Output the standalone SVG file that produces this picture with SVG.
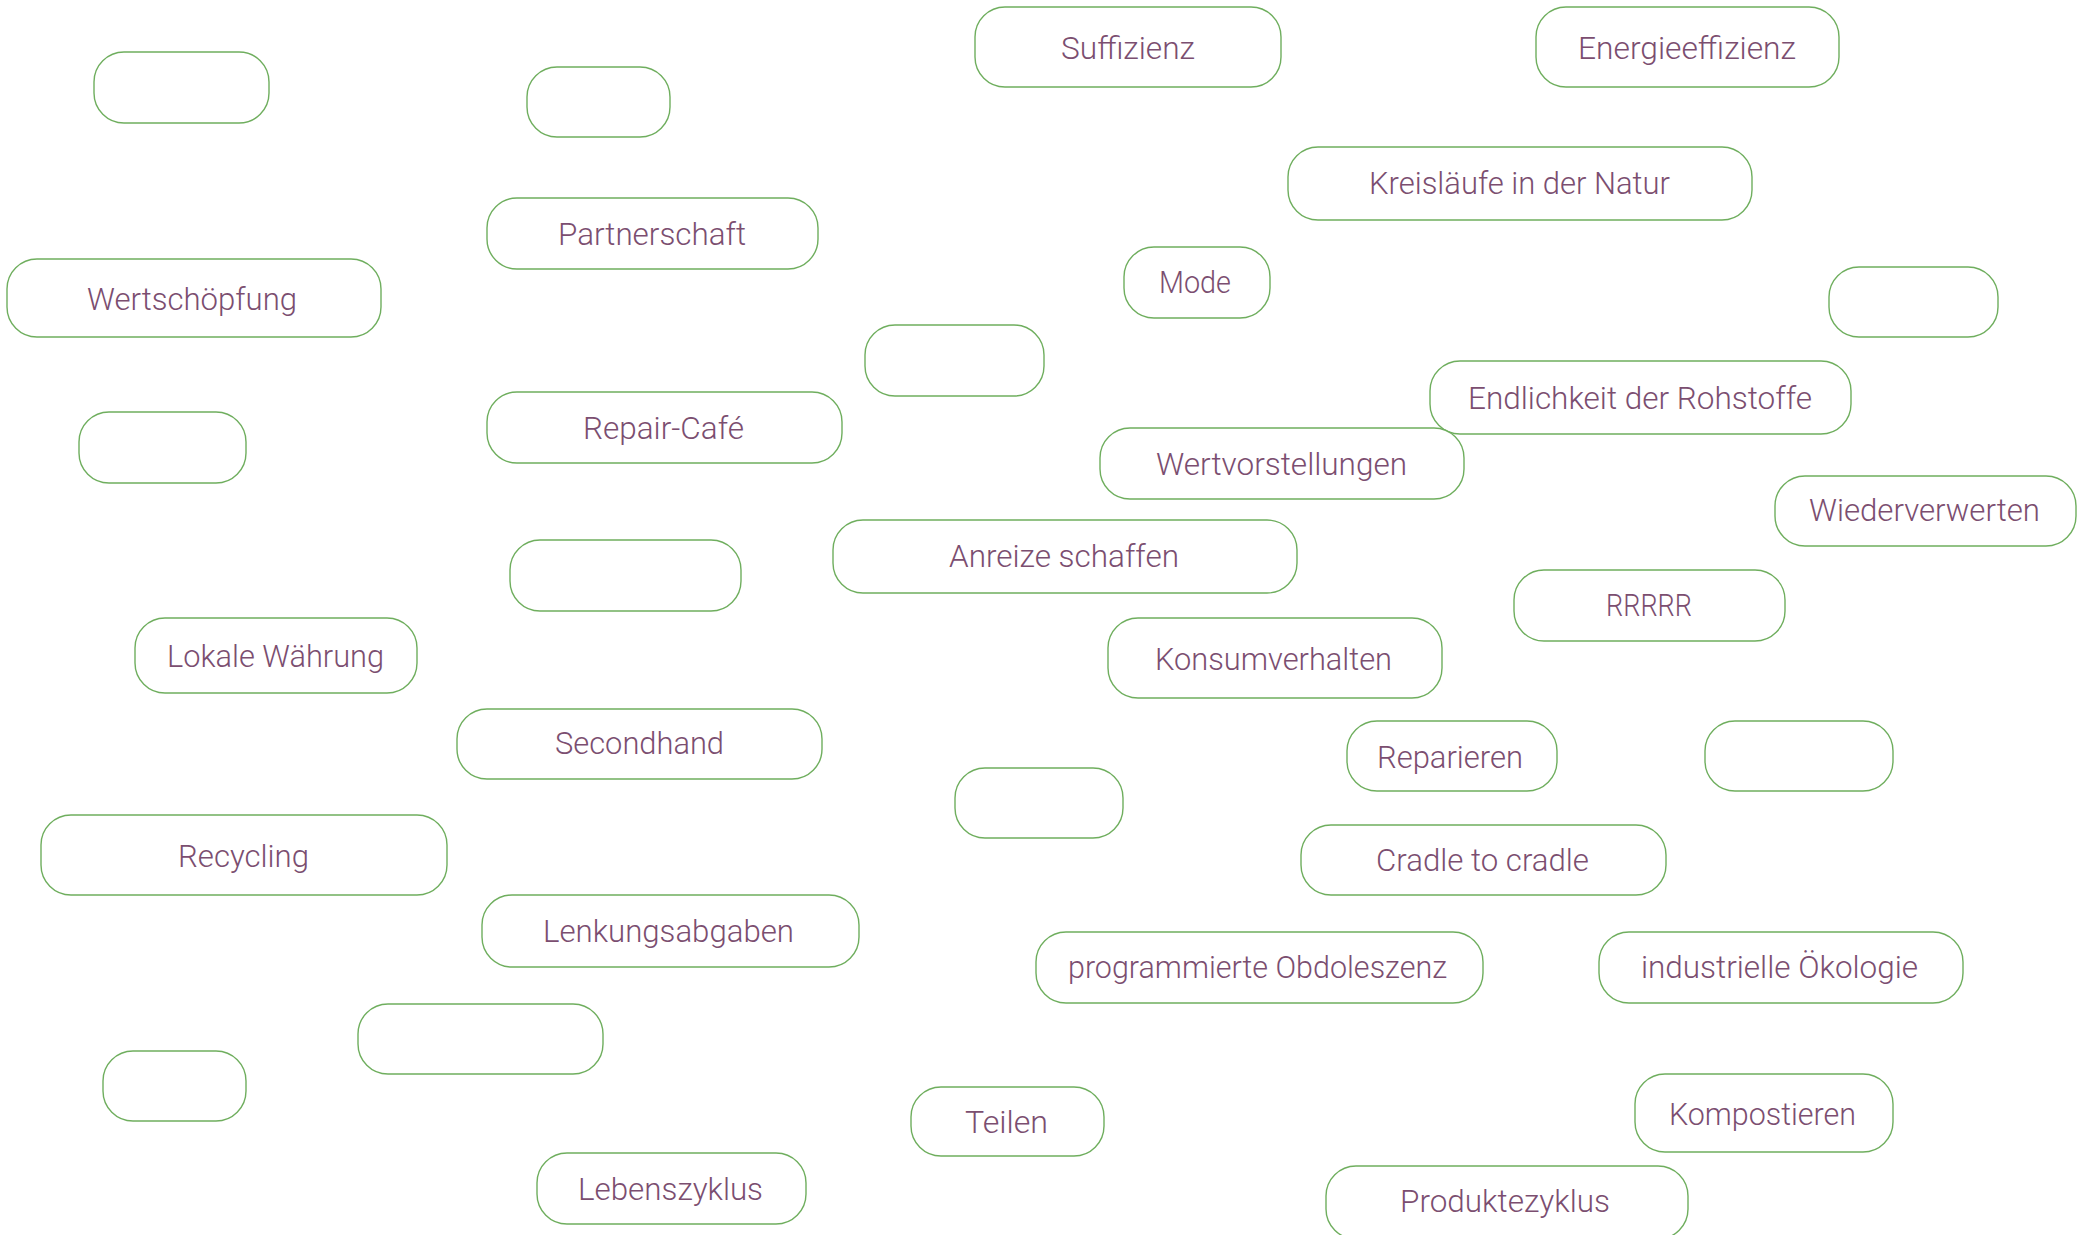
<svg xmlns="http://www.w3.org/2000/svg" width="2096" height="1235" viewBox="0 0 2096 1235">
<style>
  .box { fill: #ffffff; stroke: #6fae5e; stroke-width: 1.4; }
  .lbl { font-family: Roboto, "Liberation Sans", sans-serif; font-size: 32px; font-weight: 300; fill: #7b4e70; }
</style>
<rect x="0" y="0" width="2096" height="1235" fill="#ffffff"/>
<g id="connectors"></g>
<g id="n-empty1"><rect class="box" x="94" y="52" width="175" height="71" rx="30"/></g>
<g id="n-empty2"><rect class="box" x="527" y="67" width="143" height="70" rx="30"/></g>
<g id="n-suffizienz"><rect class="box" x="975" y="7" width="306" height="80" rx="30"/><text class="lbl" x="1061" y="59" textLength="134" lengthAdjust="spacingAndGlyphs">Suffizienz</text></g>
<g id="n-energieeffizienz"><rect class="box" x="1536" y="7" width="303" height="80" rx="30"/><text class="lbl" x="1578" y="59" textLength="218" lengthAdjust="spacingAndGlyphs">Energieeffizienz</text></g>
<g id="n-kreislaeufe"><rect class="box" x="1288" y="147" width="464" height="73" rx="30"/><text class="lbl" x="1369" y="194" textLength="301" lengthAdjust="spacingAndGlyphs">Kreisläufe in der Natur</text></g>
<g id="n-partnerschaft"><rect class="box" x="487" y="198" width="331" height="71" rx="30"/><text class="lbl" x="558" y="245" textLength="188" lengthAdjust="spacingAndGlyphs">Partnerschaft</text></g>
<g id="n-mode"><rect class="box" x="1124" y="247" width="146" height="71" rx="30"/><text class="lbl" x="1159" y="293" textLength="72" lengthAdjust="spacingAndGlyphs">Mode</text></g>
<g id="n-wertschoepfung"><rect class="box" x="7" y="259" width="374" height="78" rx="30"/><text class="lbl" x="87" y="310" textLength="210" lengthAdjust="spacingAndGlyphs">Wertschöpfung</text></g>
<g id="n-empty3"><rect class="box" x="1829" y="267" width="169" height="70" rx="30"/></g>
<g id="n-empty4"><rect class="box" x="865" y="325" width="179" height="71" rx="30"/></g>
<g id="n-endlichkeit"><rect class="box" x="1430" y="361" width="421" height="73" rx="30"/><text class="lbl" x="1468" y="409" textLength="344" lengthAdjust="spacingAndGlyphs">Endlichkeit der Rohstoffe</text></g>
<g id="n-empty5"><rect class="box" x="79" y="412" width="167" height="71" rx="30"/></g>
<g id="n-repaircafe"><rect class="box" x="487" y="392" width="355" height="71" rx="30"/><text class="lbl" x="583" y="439" textLength="161" lengthAdjust="spacingAndGlyphs">Repair-Café</text></g>
<g id="n-wertvorstellungen"><rect class="box" x="1100" y="428" width="364" height="71" rx="30"/><text class="lbl" x="1156" y="475" textLength="251" lengthAdjust="spacingAndGlyphs">Wertvorstellungen</text></g>
<g id="n-wiederverwerten"><rect class="box" x="1775" y="476" width="301" height="70" rx="30"/><text class="lbl" x="1809" y="521" textLength="231" lengthAdjust="spacingAndGlyphs">Wiederverwerten</text></g>
<g id="n-anreize"><rect class="box" x="833" y="520" width="464" height="73" rx="30"/><text class="lbl" x="949" y="567" textLength="230" lengthAdjust="spacingAndGlyphs">Anreize schaffen</text></g>
<g id="n-empty6"><rect class="box" x="510" y="540" width="231" height="71" rx="30"/></g>
<g id="n-rrrrr"><rect class="box" x="1514" y="570" width="271" height="71" rx="30"/><text class="lbl" x="1606" y="616" textLength="86" lengthAdjust="spacingAndGlyphs">RRRRR</text></g>
<g id="n-lokalewaehrung"><rect class="box" x="135" y="618" width="282" height="75" rx="30"/><text class="lbl" x="167" y="667" textLength="217" lengthAdjust="spacingAndGlyphs">Lokale Währung</text></g>
<g id="n-konsumverhalten"><rect class="box" x="1108" y="618" width="334" height="80" rx="30"/><text class="lbl" x="1155" y="670" textLength="237" lengthAdjust="spacingAndGlyphs">Konsumverhalten</text></g>
<g id="n-secondhand"><rect class="box" x="457" y="709" width="365" height="70" rx="30"/><text class="lbl" x="555" y="754" textLength="169" lengthAdjust="spacingAndGlyphs">Secondhand</text></g>
<g id="n-reparieren"><rect class="box" x="1347" y="721" width="210" height="70" rx="30"/><text class="lbl" x="1377" y="768" textLength="146" lengthAdjust="spacingAndGlyphs">Reparieren</text></g>
<g id="n-empty7"><rect class="box" x="1705" y="721" width="188" height="70" rx="30"/></g>
<g id="n-empty8"><rect class="box" x="955" y="768" width="168" height="70" rx="30"/></g>
<g id="n-recycling"><rect class="box" x="41" y="815" width="406" height="80" rx="30"/><text class="lbl" x="178" y="867" textLength="131" lengthAdjust="spacingAndGlyphs">Recycling</text></g>
<g id="n-cradle"><rect class="box" x="1301" y="825" width="365" height="70" rx="30"/><text class="lbl" x="1376" y="871" textLength="213" lengthAdjust="spacingAndGlyphs">Cradle to cradle</text></g>
<g id="n-lenkungsabgaben"><rect class="box" x="482" y="895" width="377" height="72" rx="30"/><text class="lbl" x="543" y="942" textLength="251" lengthAdjust="spacingAndGlyphs">Lenkungsabgaben</text></g>
<g id="n-obsoleszenz"><rect class="box" x="1036" y="932" width="447" height="71" rx="30"/><text class="lbl" x="1068" y="978" textLength="379" lengthAdjust="spacingAndGlyphs">programmierte Obdoleszenz</text></g>
<g id="n-oekologie"><rect class="box" x="1599" y="932" width="364" height="71" rx="30"/><text class="lbl" x="1641" y="978" textLength="277" lengthAdjust="spacingAndGlyphs">industrielle Ökologie</text></g>
<g id="n-empty9"><rect class="box" x="358" y="1004" width="245" height="70" rx="30"/></g>
<g id="n-empty10"><rect class="box" x="103" y="1051" width="143" height="70" rx="30"/></g>
<g id="n-kompostieren"><rect class="box" x="1635" y="1074" width="258" height="78" rx="30"/><text class="lbl" x="1669" y="1125" textLength="187" lengthAdjust="spacingAndGlyphs">Kompostieren</text></g>
<g id="n-teilen"><rect class="box" x="911" y="1087" width="193" height="69" rx="30"/><text class="lbl" x="965" y="1133" textLength="83" lengthAdjust="spacingAndGlyphs">Teilen</text></g>
<g id="n-lebenszyklus"><rect class="box" x="537" y="1153" width="269" height="71" rx="30"/><text class="lbl" x="578" y="1200" textLength="185" lengthAdjust="spacingAndGlyphs">Lebenszyklus</text></g>
<g id="n-produktezyklus"><rect class="box" x="1326" y="1166" width="362" height="73" rx="30"/><text class="lbl" x="1400" y="1212" textLength="210" lengthAdjust="spacingAndGlyphs">Produktezyklus</text></g>
</svg>
